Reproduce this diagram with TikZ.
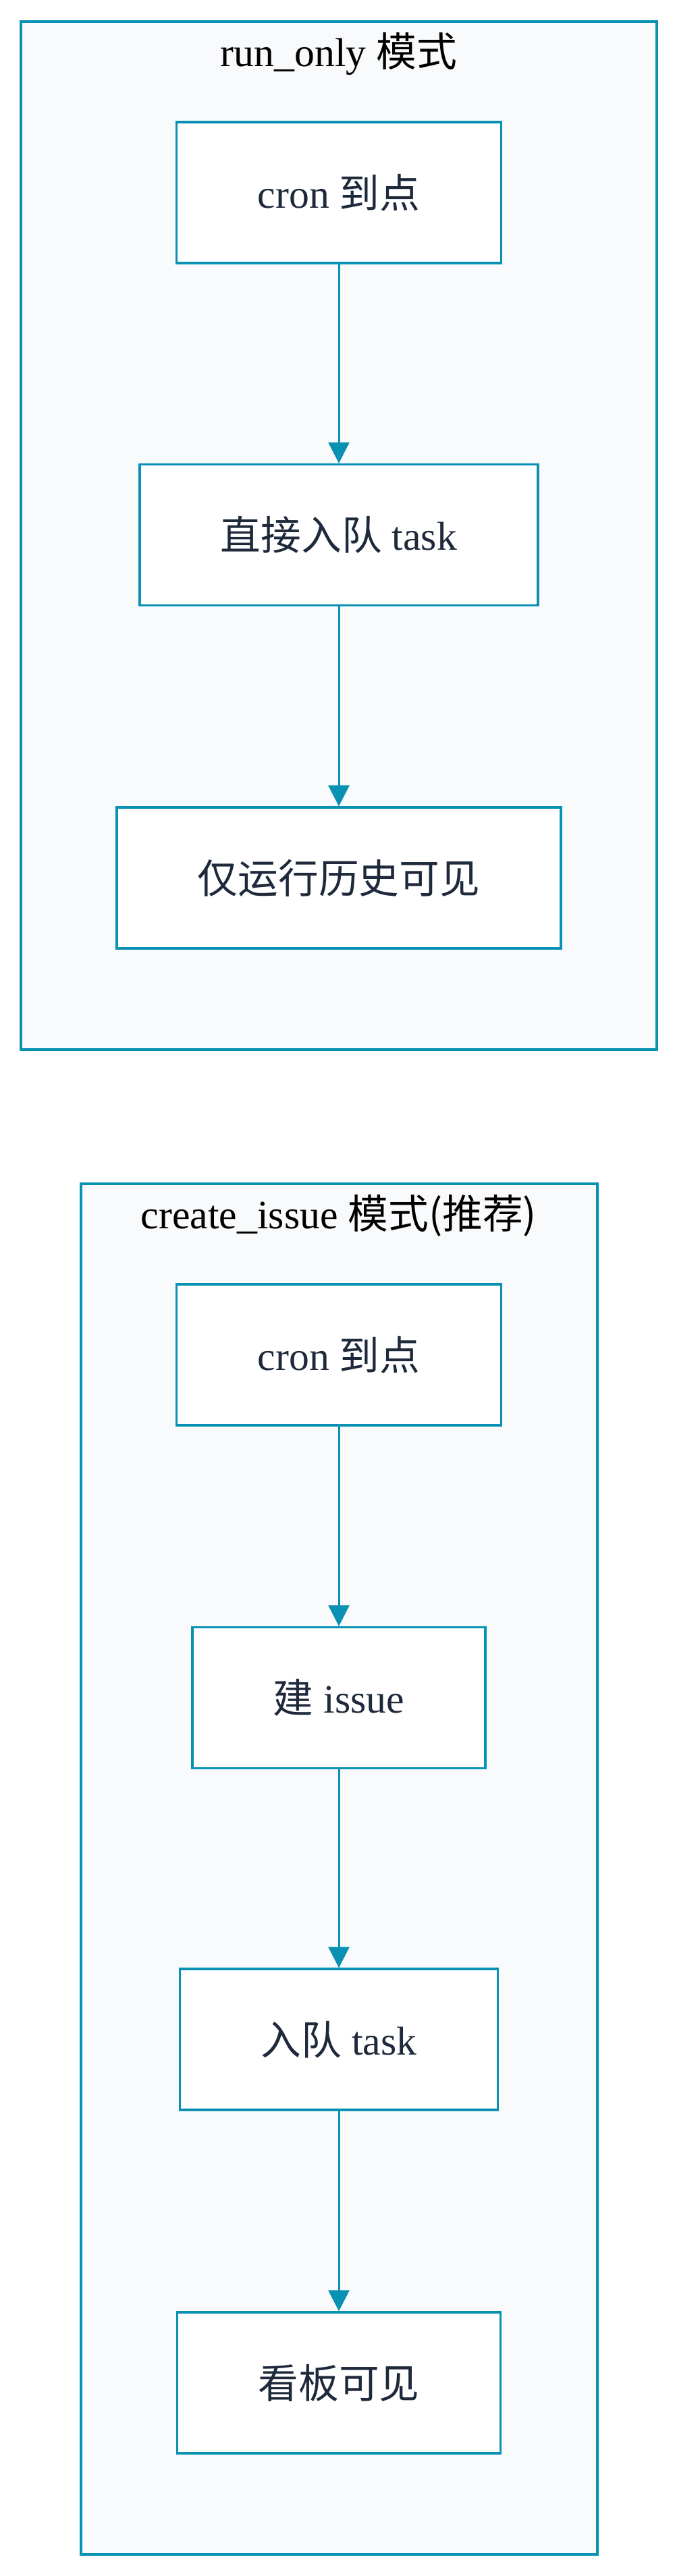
\documentclass[tikz,border=0pt]{standalone}
\usepackage{fontspec}
\setmainfont{Liberation Serif}
\newfontfamily\cjk{Noto Sans CJK SC}
\usetikzlibrary{arrows.meta}
\definecolor{edgeblue}{HTML}{0891B2}
\definecolor{panelbg}{HTML}{F8FAFC}
\definecolor{inktext}{HTML}{1E293B}
\begin{document}
\begin{tikzpicture}[
    box/.style={draw=edgeblue,line width=0.95pt,fill=white,text=inktext,
      inner xsep=1.2cm,minimum height=2.09cm,font=\fontsize{17}{20}\selectfont},
    panel/.style={draw=edgeblue,fill=panelbg,line width=0.95pt},
    head/.style={font=\fontsize{17}{20}\selectfont},
    flow/.style={draw=edgeblue,line width=0.85pt,
      -{Triangle[length=0.31cm,width=0.31cm]}}]
    \useasboundingbox (0,0) rectangle (10,-38.19);
    % run_only
    \draw[panel] (0.31,-0.32) rectangle (9.73,-15.56);
    \node[head] (runhead) at (5.02,-0.80) {run\_only {\cjk 模式}};
    \node[box] (r1) at (5.02,-2.855) {cron {\cjk 到点}};
    \node[box] (r2) at (5.02,-7.93) {{\cjk 直接入队} task};
    \node[box] (r3) at (5.02,-13.015) {{\cjk 仅运行历史可见}};
    % create_issue
    \draw[panel] (1.20,-17.55) rectangle (8.85,-37.87);
    \node[head] (issuehead) at (5.02,-18.02) {create\_issue {\cjk 模式(推荐)}};
    \node[box] (c1) at (5.02,-20.085) {cron {\cjk 到点}};
    \node[box] (c2) at (5.02,-25.17) {{\cjk 建} issue};
    \node[box] (c3) at (5.02,-30.235) {{\cjk 入队} task};
    \node[box] (c4) at (5.02,-35.325) {{\cjk 看板可见}};
    \foreach \a/\b in {r1/r2,r2/r3,c1/c2,c2/c3,c3/c4} {
      \draw[flow] (\a) -- (\b);
    }
  \end{tikzpicture}
\end{document}
